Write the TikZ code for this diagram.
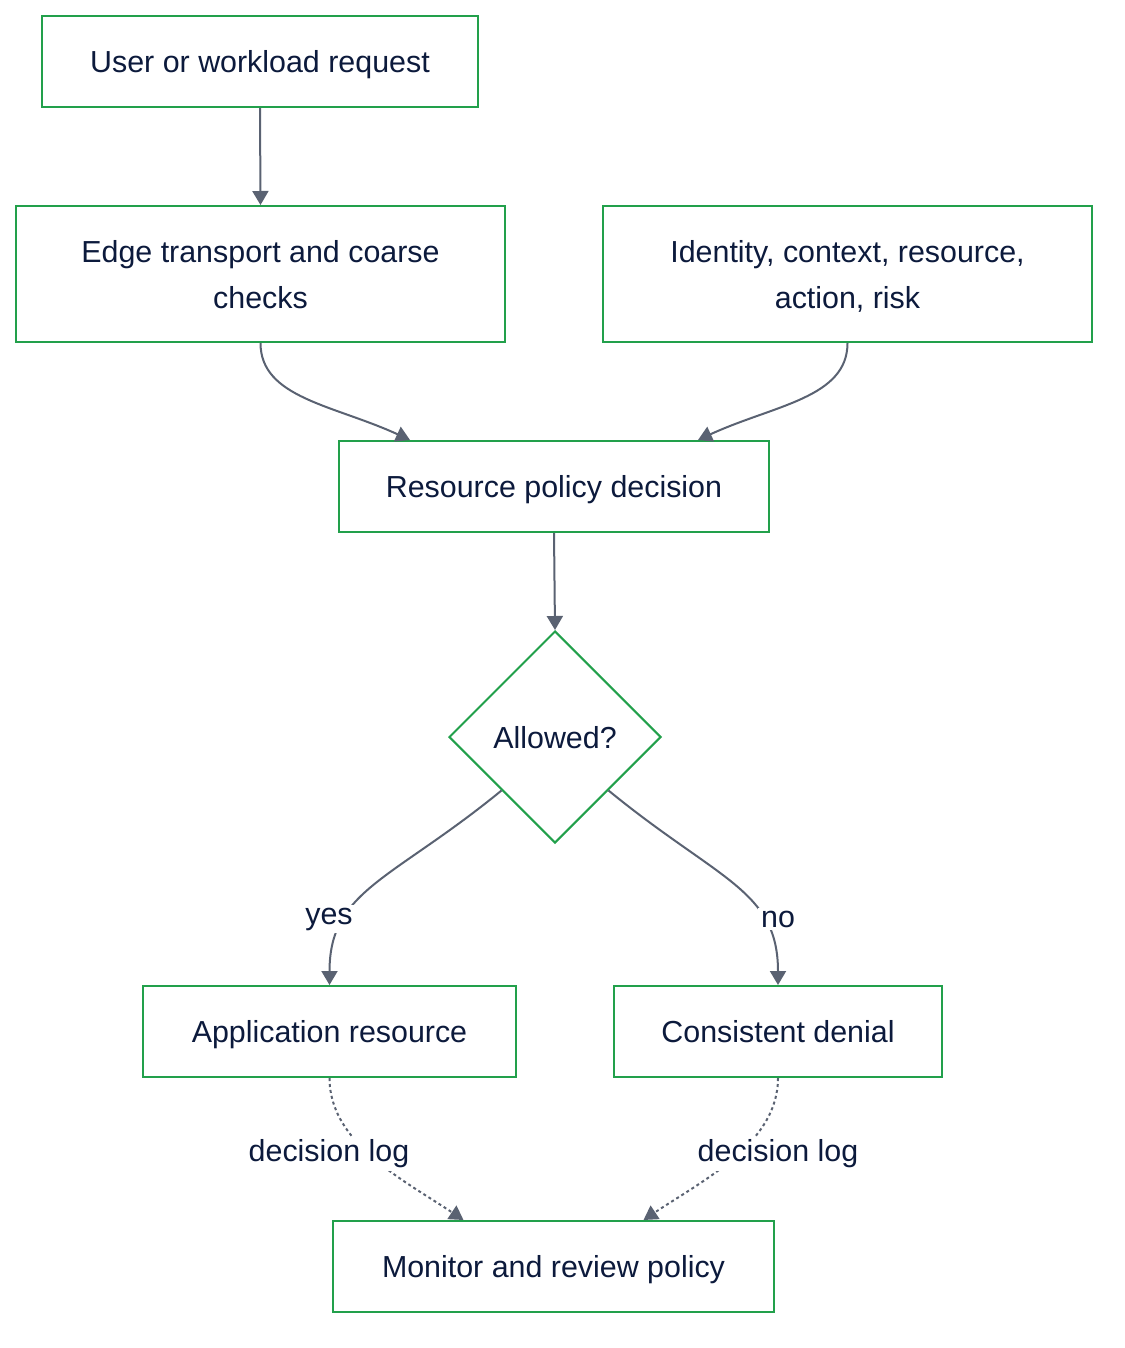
\documentclass[tikz,border=0pt]{standalone}
\usepackage{fontspec}
\setmainfont{Liberation Sans}
\usetikzlibrary{shapes.geometric,arrows.meta,calc}
\definecolor{boxgreen}{HTML}{22A04B}
\definecolor{edgegray}{HTML}{5A6272}
\definecolor{txt}{HTML}{0C1A3C}
\begin{document}
\begin{tikzpicture}[x=0.5pt,y=-0.5pt,
  every node/.style={text=txt,font=\fontsize{15.2}{23}\selectfont},
  box/.style={draw=boxgreen,line width=1pt,fill=white,align=center,inner sep=0pt,text depth=0pt},
  choice/.style={diamond,draw=boxgreen,line width=1pt,fill=white,inner sep=0pt,text depth=0pt,minimum width=106pt,minimum height=106pt,aspect=1},
  conn/.style={draw=edgegray,line width=1pt,-{Triangle[width=8pt,length=7pt]}},
  dotconn/.style={conn,dash pattern=on 1.5pt off 1.5pt},
  lbl/.style={fill=white,inner sep=1.5pt}]
\useasboundingbox (0,0) rectangle (1124,1348);
\node[box,minimum width=218pt,minimum height=45.5pt] (A) at (260,61.5) {User or workload request};
\node[box,minimum width=244.5pt,minimum height=68pt] (B) at (260.5,274) {Edge transport and coarse\\checks};
\node[box,minimum width=244.5pt,minimum height=68pt] (C) at (847.5,274) {Identity, context, resource,\\action, risk};
\node[box,minimum width=215pt,minimum height=45.5pt] (D) at (554,486.5) {Resource policy decision};
\node[choice] (E) at (555,737) {Allowed?};
\node[box,minimum width=186.5pt,minimum height=45.5pt] (F) at (329.5,1031.5) {Application resource};
\node[box,minimum width=164pt,minimum height=45.5pt] (G) at (778,1031.5) {Consistent denial};
\node[box,minimum width=220.5pt,minimum height=45.5pt] (H) at (553.5,1266.5) {Monitor and review policy};

\draw[conn] (A.south) -- (B.north);
\draw[conn] (B.south) .. controls ($(B.south)+(0,55)$) and ($(D.north)+(-220,-35)$) .. ($(D.north)+(-144,0)$);
\draw[conn] (C.south) .. controls ($(C.south)+(0,55)$) and ($(D.north)+(220,-35)$) .. ($(D.north)+(144,0)$);
\draw[conn] (D.south) -- (E.north);
\draw[conn] (E.south west) .. controls ($(E.south west)+(-110,90)$) and ($(F.north)+(0,-95)$) .. (F.north);
\draw[conn] (E.south east) .. controls ($(E.south east)+(110,90)$) and ($(G.north)+(0,-95)$) .. (G.north);
\draw[dotconn] (F.south) .. controls ($(F.south)+(0,65)$) and ($(H.north)+(-150,-40)$) .. ($(H.north)+(-90,0)$);
\draw[dotconn] (G.south) .. controls ($(G.south)+(0,65)$) and ($(H.north)+(150,-40)$) .. ($(H.north)+(90,0)$);
\node[lbl] (yes) at (329,919) {yes};
\node[lbl] (no) at (778,919) {no};
\node[lbl] (log1) at (329,1154) {decision log};
\node[lbl] (log2) at (778,1154) {decision log};
\end{tikzpicture}
\end{document}
